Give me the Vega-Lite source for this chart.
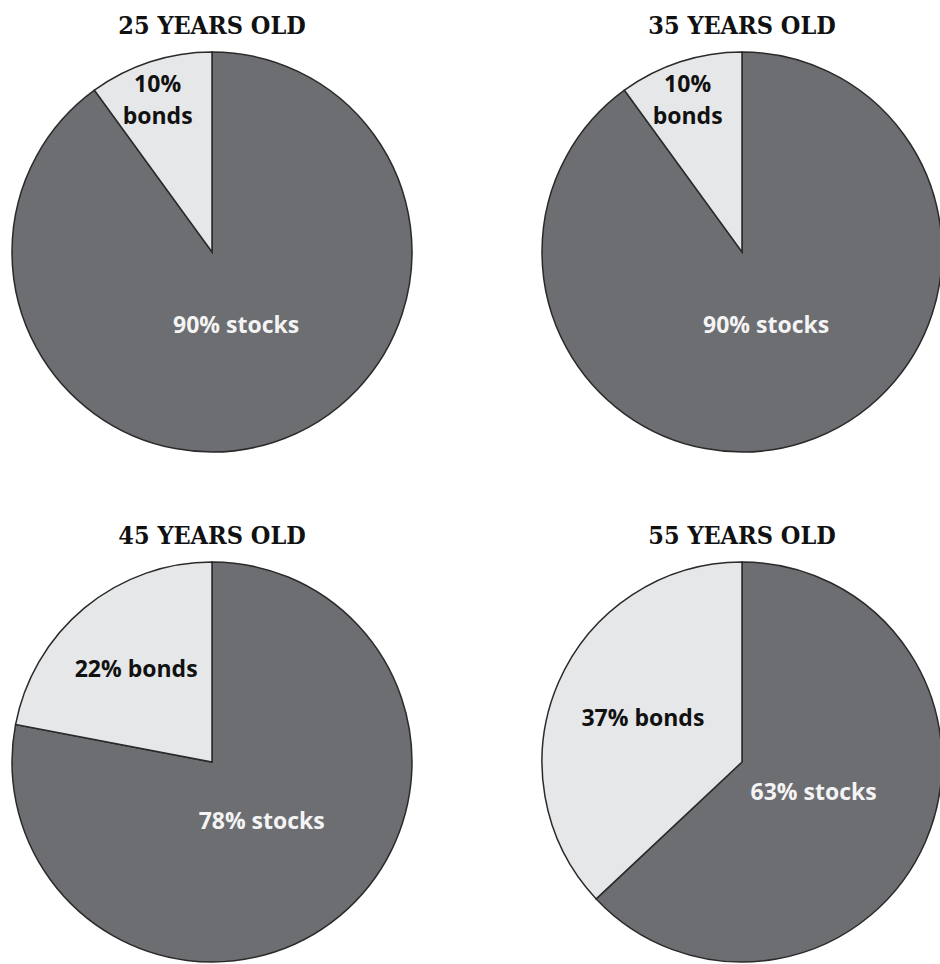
{
  "$schema": "https://vega.github.io/schema/vega-lite/v6.json",
  "padding": {"left": 9, "top": 14, "right": 0, "bottom": 0},
  "background": "white",
  "data": {"values": [
    {"age": "25 YEARS OLD", "type": "stocks", "pct": 90, "label": "90% stocks"},
    {"age": "25 YEARS OLD", "type": "bonds", "pct": 10, "label": "10%\nbonds"},
    {"age": "35 YEARS OLD", "type": "stocks", "pct": 90, "label": "90% stocks"},
    {"age": "35 YEARS OLD", "type": "bonds", "pct": 10, "label": "10%\nbonds"},
    {"age": "45 YEARS OLD", "type": "stocks", "pct": 78, "label": "78% stocks"},
    {"age": "45 YEARS OLD", "type": "bonds", "pct": 22, "label": "22% bonds"},
    {"age": "55 YEARS OLD", "type": "stocks", "pct": 63, "label": "63% stocks"},
    {"age": "55 YEARS OLD", "type": "bonds", "pct": 37, "label": "37% bonds"}
  ]},
  "facet": {"field": "age", "type": "nominal", "title": null,
    "header": {"labelFont": "DejaVu Serif Condensed", "labelFontWeight": "bold", "labelFontSize": 25, "labelColor": "#111", "labelPadding": 10}},
  "columns": 2,
  "spacing": {"column": 124, "row": 69},
  "spec": {
    "width": 400,
    "height": 400,
    "encoding": {
      "theta": {"field": "pct", "type": "quantitative", "stack": true},
      "order": {"field": "type", "sort": "descending"}
    },
    "layer": [
      {
        "mark": {"type": "arc", "stroke": "#2a2a2a", "strokeWidth": 1.5},
        "encoding": {
          "color": {"field": "type", "type": "nominal", "legend": null,
            "scale": {"domain": ["stocks", "bonds"], "range": ["#6d6e72", "#e6e7e9"]}}
        }
      },
      {
        "mark": {"type": "text", "radius": 78, "font": "Open Sans", "fontWeight": "bold", "fontSize": 23, "color": "#f4f4f4", "lineBreak": "\n"},
        "encoding": {
          "text": {"condition": {"test": "datum.type === 'stocks'", "field": "label"}, "value": ""}
        }
      },
      {
        "mark": {"type": "text", "font": "Open Sans", "fontWeight": "bold", "fontSize": 23, "color": "#111", "lineBreak": "\n", "lineHeight": 32},
        "encoding": {
          "radius": {"field": "pct", "type": "quantitative",
            "scale": {"type": "linear", "zero": false, "domain": [10, 22, 37], "range": [176, 119, 108]}},
          "text": {"condition": {"test": "datum.type === 'bonds'", "field": "label"}, "value": ""}
        }
      }
    ]
  },
  "config": {"view": {"stroke": null}}
}
